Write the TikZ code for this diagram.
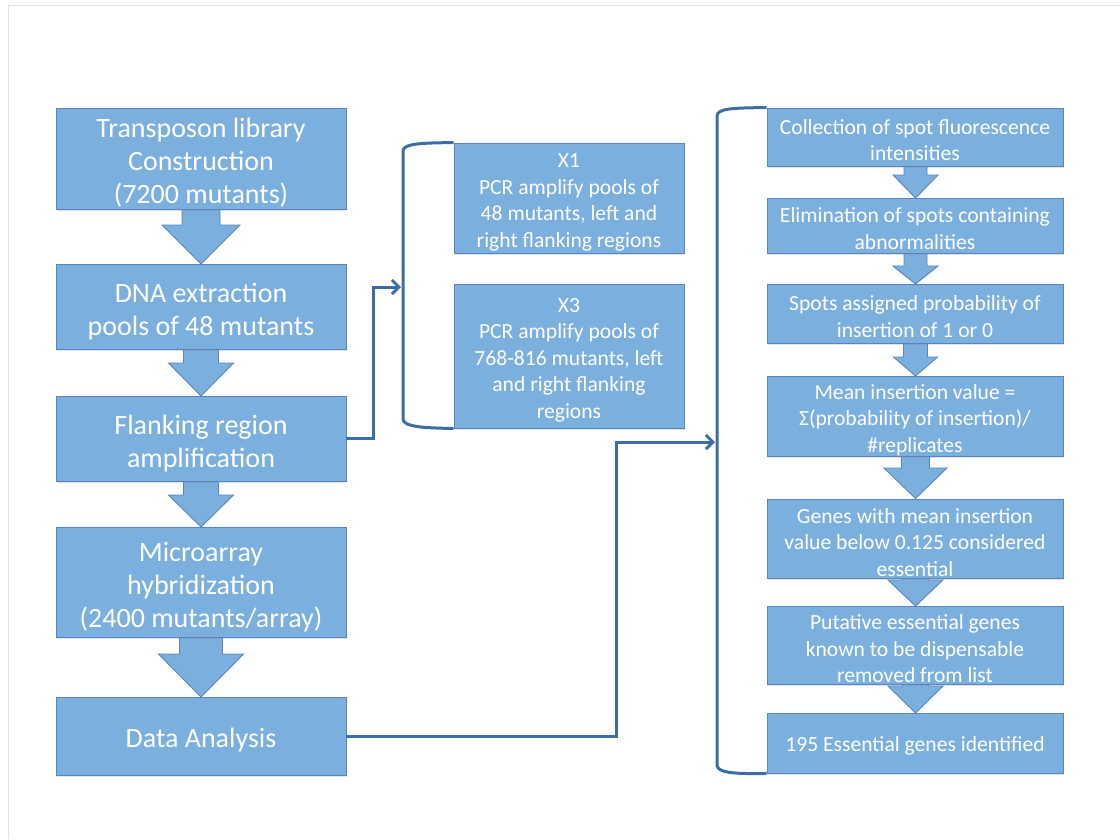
\documentclass[tikz,border=0pt]{standalone}
\usepackage{fontspec}
\setmainfont{Carlito}
\usetikzlibrary{arrows.meta,shadows,calc}
\definecolor{boxfill}{RGB}{123,175,222}
\definecolor{boxline}{RGB}{88,133,190}
\definecolor{conncol}{RGB}{60,110,165}
\definecolor{framecol}{RGB}{226,226,226}
\tikzset{
  box/.style={draw=boxline, fill=boxfill, line width=0.9pt, inner sep=0pt,
    drop shadow={opacity=0.22, shadow xshift=1.2pt, shadow yshift=-2.2pt}},
  bigtxt/.style={text=white, align=center, font=\fontsize{28}{33}\selectfont, inner sep=0pt},
  smalltxt/.style={text=white, align=center, font=\fontsize{21.6}{26.5}\selectfont, inner sep=0pt},
  conn/.style={draw=conncol, line width=3pt},
  connarrow/.style={conn, -{Straight Barb[length=7pt,width=14pt]}},
  bracketline/.style={draw=conncol, line width=3pt},
  blockfill/.style={fill=boxfill},
  blockline/.style={draw=boxline, line width=0.9pt, line join=miter},
}
% x, ybottom, yheadstart, ytip, shaft half width, head half width
\newcommand{\myblockarrow}[6]{%
  \path[blockfill] ({#1-#5},{#2-6}) -- ({#1-#5},#3) -- ({#1-#6},#3) -- (#1,#4) -- ({#1+#6},#3) -- ({#1+#5},#3) -- ({#1+#5},{#2-6}) -- cycle;
  \draw[blockline] ({#1-#5},{#2-6}) -- ({#1-#5},#3) -- ({#1-#6},#3) -- (#1,#4) -- ({#1+#6},#3) -- ({#1+#5},#3) -- ({#1+#5},{#2-6});
}
\begin{document}
\begin{tikzpicture}[x=1pt,y=-1pt]
\useasboundingbox (0,0) rectangle (1120,839);
% slide frame
\draw[framecol, line width=1pt] (8.5,839) -- (8.5,5) -- (1120,5);

% block arrows, left column
\myblockarrow{201}{209}{225}{264}{19}{39}
\myblockarrow{201}{349}{363}{396}{17.5}{32.5}
\myblockarrow{201}{481}{495}{527}{17.5}{32.5}
\myblockarrow{201}{637}{654}{697}{21.5}{42.5}
% block arrows, right column
\myblockarrow{915.5}{166}{175}{198}{11.5}{22.5}
\myblockarrow{915.5}{253}{266}{284}{11.5}{22.5}
\myblockarrow{915.5}{343}{357}{376}{12}{22}
\myblockarrow{915.5}{456}{468}{498.5}{14}{31.5}
\myblockarrow{915.5}{578}{580}{606}{13}{27.5}
\myblockarrow{915.5}{684}{686}{713}{13}{27.5}

% left column boxes
\node[box, minimum width=290pt, minimum height=101pt] (b1) at (201,158.5) {};
\node[box, minimum width=290pt, minimum height=85pt] (b2) at (201,306.5) {};
\node[box, minimum width=290pt, minimum height=85pt] (b3) at (201,438.5) {};
\node[box, minimum width=290pt, minimum height=110pt] (b4) at (201,582) {};
\node[box, minimum width=290pt, minimum height=78pt] (b5) at (201,736) {};
\node[bigtxt] (b1t) at ([yshift=-4.5pt]b1.center) {Transposon library\\Construction\\(7200 mutants)};
\node[bigtxt] (b2t) at ([yshift=-5pt]b2.center) {DNA extraction\\pools of 48 mutants};
\node[bigtxt] (b3t) at ([yshift=-5pt]b3.center) {Flanking region\\amplification};
\node[bigtxt] (b4t) at ([yshift=-5.5pt]b4.center) {Microarray\\hybridization\\(2400 mutants/array)};
\node[bigtxt] (b5t) at ([yshift=-4pt]b5.center) {Data Analysis};

% middle boxes
\node[box, minimum width=230pt, minimum height=110pt] (x1) at (569,198) {};
\node[box, minimum width=230pt, minimum height=144pt] (x3) at (569,356) {};
\node[smalltxt] (x1t) at ([yshift=-4.5pt]x1.center) {X1\\PCR amplify pools of\\48 mutants, left and\\right flanking regions};
\node[smalltxt] (x3t) at ([yshift=-4pt]x3.center) {X3\\PCR amplify pools of\\768-816 mutants, left\\and right flanking\\regions};

% right column boxes
\node[box, minimum width=296pt, minimum height=58pt] (r1) at (915,137) {};
\node[box, minimum width=296pt, minimum height=55pt] (r2) at (915,225.5) {};
\node[box, minimum width=296pt, minimum height=59pt] (r3) at (915,313.5) {};
\node[box, minimum width=296pt, minimum height=80pt] (r4) at (915,416) {};
\node[box, minimum width=296pt, minimum height=79pt] (r5) at (915,538.5) {};
\node[box, minimum width=296pt, minimum height=78pt] (r6) at (915,645) {};
\node[box, minimum width=296pt, minimum height=60pt] (r7) at (915,743) {};
\node[smalltxt] (r1t) at ([yshift=-3pt]r1.center) {Collection of spot fluorescence\\intensities};
\node[smalltxt] (r2t) at ([yshift=-3pt]r2.center) {Elimination of spots containing\\abnormalities};
\node[smalltxt] (r3t) at ([yshift=-3pt]r3.center) {Spots assigned probability of\\insertion of 1 or 0};
\node[smalltxt] (r4t) at ([yshift=-4pt]r4.center) {Mean insertion value =\\Σ(probability of insertion)/\\\#replicates};
\node[smalltxt] (r5t) at ([yshift=-4pt]r5.center) {Genes with mean insertion\\value below 0.125 considered\\essential};
\node[smalltxt] (r6t) at ([yshift=-4pt]r6.center) {Putative essential genes\\known to be dispensable\\removed from list};
\node[smalltxt] (r7t) at ([yshift=-2.5pt]r7.center) {195 Essential genes identified};

% brackets
\draw[bracketline] (x1.north west) .. controls (425,143) and (403,143) .. (403,151) -- (403,419) .. controls (403,427) and (425,428) .. (x3.south west);
\draw[bracketline] (r1.north west) .. controls (735,108) and (717,108) .. (717,116) -- (717,765) .. controls (717,773) and (735,774) .. (r7.south west);

% connectors
\coordinate (k1) at (401,287);
\coordinate (k2) at (715,442);
\draw[connarrow] (b3.east) -- (373,438.5) |- (k1);
\draw[connarrow] (b5.east) -- (616,736) |- (k2);
\end{tikzpicture}
\end{document}
